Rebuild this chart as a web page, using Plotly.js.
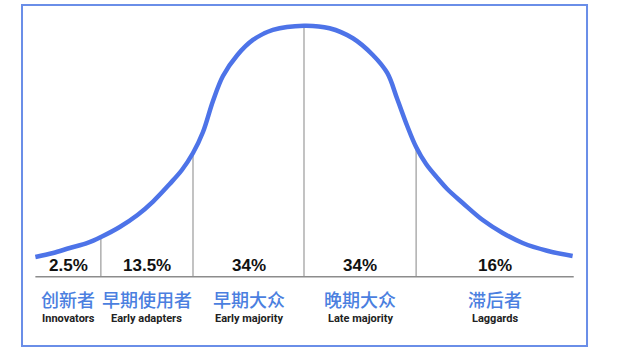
<!DOCTYPE html>
<html>
<head>
<meta charset="utf-8">
<script src="https://cdn.plot.ly/plotly-3.0.1.min.js"></script>
<style>html,body{margin:0;padding:0;background:#fff;}#chart{width:620px;height:359px;}</style>
</head>
<body>
<div id="chart"></div>
<script>
// Adoption curve, x in standard deviations from the mean, y = relative density (%)
const curveX = [-2.42,-2.26,-2.11,-1.95,-1.82,-1.66,-1.50,-1.36,-1.21,-1.10,-1.00,-0.91,-0.82,-0.73,-0.60,-0.46,-0.28,0,0.23,0.44,0.62,0.75,0.84,0.93,1.01,1.10,1.21,1.29,1.43,1.61,1.79,1.97,2.19,2.42];
const curveY = [3.13,3.77,4.56,5.36,6.39,7.90,9.81,11.95,14.74,16.96,19.66,23.00,27.93,31.90,35.24,37.63,39.22,39.90,39.49,37.90,35.24,32.38,28.25,23.96,20.62,17.91,15.53,13.94,11.72,9.01,6.95,5.36,4.13,3.29];
// Segment boundaries (start, dividers, end)
const bounds = [-2.42, -1.83, -1.00, 0, 1.01, 2.43];
const shares = ["2.5%", "13.5%", "34%", "34%", "16%"];
const namesZh = ["创新者", "早期使用者", "早期大众", "晚期大众", "滞后者"];
const namesEn = ["Innovators", "Early adapters", "Early majority", "Late majority", "Laggards"];

function interp(x) {
  for (let i = 0; i < curveX.length - 1; i++) {
    if (x >= curveX[i] && x <= curveX[i+1]) {
      const t = (x - curveX[i]) / (curveX[i+1] - curveX[i]);
      return curveY[i] + t * (curveY[i+1] - curveY[i]);
    }
  }
  return x < curveX[0] ? curveY[0] : curveY[curveY.length-1];
}

const traces = [];
// dividers
const dx = [], dy = [];
for (let i = 1; i < bounds.length - 1; i++) {
  dx.push(bounds[i], bounds[i], null);
  dy.push(0, interp(bounds[i]), null);
}
traces.push({x: dx, y: dy, mode: 'lines', line: {color: '#9a9a9a', width: 1.2}, hoverinfo: 'skip'});
// baseline
traces.push({x: [bounds[0], bounds[bounds.length-1]], y: [0, 0], mode: 'lines', line: {color: '#8c8c8c', width: 1.5}, hoverinfo: 'skip'});
// curve
traces.push({x: curveX, y: curveY, mode: 'lines', line: {color: '#4d73e8', width: 4.5, shape: 'spline', smoothing: 1}, hoverinfo: 'skip'});

const annotations = [];
for (let i = 0; i < shares.length; i++) {
  const cx = (bounds[i] + bounds[i+1]) / 2;
  annotations.push({x: cx, y: 0, xref: 'x', yref: 'y', text: shares[i], showarrow: false, yanchor: 'middle', yshift: 11,
    font: {family: 'Liberation Sans, Arial, sans-serif', size: 17, color: '#111', weight: 'bold'}});
  annotations.push({x: cx, y: 0, xref: 'x', yref: 'y', text: namesZh[i], showarrow: false, yanchor: 'middle', yshift: -22,
    font: {family: '"Noto Sans CJK SC", sans-serif', size: 18, color: '#4b7fe0', weight: 500}});
  annotations.push({x: cx, y: 0, xref: 'x', yref: 'y', text: namesEn[i], showarrow: false, yanchor: 'middle', yshift: -42,
    font: {family: '"Liberation Sans Narrow", "Roboto", sans-serif', size: 11, color: '#222', weight: 'bold'}});
}

const layout = {
  width: 620, height: 359,
  margin: {l: 0, r: 0, t: 0, b: 0},
  paper_bgcolor: '#ffffff', plot_bgcolor: '#ffffff',
  showlegend: false,
  xaxis: {range: [-2.7387, 2.8468], visible: false, fixedrange: true},
  yaxis: {range: [-13.08, 43.98], visible: false, fixedrange: true},
  annotations: annotations,
  shapes: [{type: 'rect', xref: 'paper', yref: 'paper', x0: 0.0355, x1: 0.9468, y0: 0.0362, y1: 0.986,
    line: {color: '#6a8ee8', width: 2}, fillcolor: 'rgba(0,0,0,0)'}]
};
Plotly.newPlot('chart', traces, layout, {staticPlot: true, displayModeBar: false});
</script>
</body>
</html>
